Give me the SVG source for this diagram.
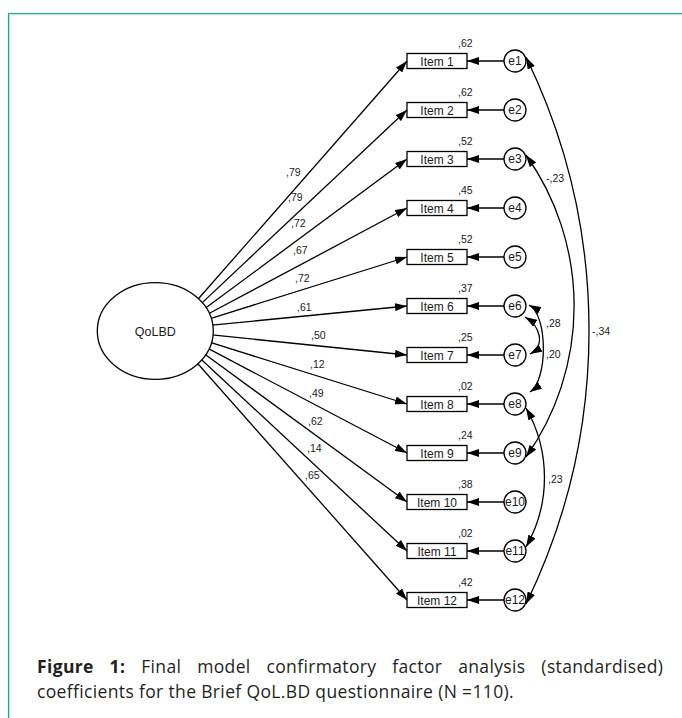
<svg xmlns="http://www.w3.org/2000/svg" width="682" height="718" viewBox="0 0 682 718">
<style>
.ln{stroke:#000;stroke-width:1.3;fill:none}
.bx{fill:#fff;stroke:#000;stroke-width:1.3}
.t{font-family:"Liberation Sans",Arial,sans-serif;fill:#1a1a1a}
.it{font-size:12px;text-anchor:middle}
.v{font-size:10.5px}
.cap{font-family:"Open Sans",Lato,sans-serif;font-size:17.5px;letter-spacing:0.35px;fill:#231f20}
</style>
<defs>
<marker id="ah" markerWidth="12" markerHeight="8" refX="12" refY="4" orient="auto-start-reverse" markerUnits="userSpaceOnUse"><path d="M0,0L12,4L0,8z" fill="#000"/></marker>
</defs>
<rect width="682" height="718" fill="#fff"/>
<g id="frame">
<path d="M8.5,718V13.5H682" stroke="#1fa58a" stroke-width="1.2" fill="none"/>
<path d="M9.8,718V14.8H682" stroke="#a6e3da" stroke-width="1" fill="none"/>
</g>
<g id="connectors">
<!-- loadings -->
<path class="ln" marker-end="url(#ah)" d="M196,301.5L407,61"/>
<path class="ln" marker-end="url(#ah)" d="M198.6,306.1L407,110"/>
<path class="ln" marker-end="url(#ah)" d="M202.2,310.6L407,159"/>
<path class="ln" marker-end="url(#ah)" d="M204.7,315.8L407,208"/>
<path class="ln" marker-end="url(#ah)" d="M206.3,319.8L407,257"/>
<path class="ln" marker-end="url(#ah)" d="M207,325.6L407,306"/>
<path class="ln" marker-end="url(#ah)" d="M207,334.4L407,355"/>
<path class="ln" marker-end="url(#ah)" d="M206.3,341.2L407,404"/>
<path class="ln" marker-end="url(#ah)" d="M203.7,346.2L407,453"/>
<path class="ln" marker-end="url(#ah)" d="M201.2,351.5L407,502"/>
<path class="ln" marker-end="url(#ah)" d="M197.6,355.9L407,551"/>
<path class="ln" marker-end="url(#ah)" d="M195,360.5L407,600"/>
<!-- errors -->
<path class="ln" marker-end="url(#ah)" d="M504,61H467"/>
<path class="ln" marker-end="url(#ah)" d="M504,110H467"/>
<path class="ln" marker-end="url(#ah)" d="M504,159H467"/>
<path class="ln" marker-end="url(#ah)" d="M504,208H467"/>
<path class="ln" marker-end="url(#ah)" d="M504,257H467"/>
<path class="ln" marker-end="url(#ah)" d="M504,306H467"/>
<path class="ln" marker-end="url(#ah)" d="M504,355H467"/>
<path class="ln" marker-end="url(#ah)" d="M504,404H467"/>
<path class="ln" marker-end="url(#ah)" d="M504,453H467"/>
<path class="ln" marker-end="url(#ah)" d="M504,502H467"/>
<path class="ln" marker-end="url(#ah)" d="M504,551H467"/>
<path class="ln" marker-end="url(#ah)" d="M504,600H467"/>
<!-- covariances -->
<path class="ln" marker-start="url(#ah)" marker-end="url(#ah)" d="M526,57A625,625 0 0 1 526,604"/>
<path class="ln" marker-start="url(#ah)" marker-end="url(#ah)" d="M526,155A261,261 0 0 1 526,457"/>
<path class="ln" marker-start="url(#ah)" marker-end="url(#ah)" d="M529,305C548,315 548,380 530,392"/>
<path class="ln" marker-start="url(#ah)" marker-end="url(#ah)" d="M525,317C540,326 546,345 530,354"/>
<path class="ln" marker-start="url(#ah)" marker-end="url(#ah)" d="M526,408A140,140 0 0 1 526,547"/>
<!-- labels -->
<g class="t v">
<text x="286" y="176">,79</text>
<text x="288" y="201">,79</text>
<text x="291" y="227">,72</text>
<text x="293" y="254">,67</text>
<text x="295" y="282">,72</text>
<text x="297" y="311">,61</text>
<text x="311" y="339">,50</text>
<text x="310" y="368">,12</text>
<text x="309" y="397">,49</text>
<text x="308" y="425">,62</text>
<text x="307" y="452">,14</text>
<text x="305" y="479">,65</text>
<text x="546" y="182">-,23</text>
<text x="592" y="335">-,34</text>
<text x="546" y="327">,28</text>
<text x="546" y="358">,20</text>
<text x="548" y="483">,23</text>
</g>
</g>
<g id="QoLBD">
<ellipse cx="155.3" cy="331" rx="58" ry="48.3" fill="#fff" stroke="#000" stroke-width="1.3"/>
<text class="t" x="155.3" y="335.5" font-size="12.5" text-anchor="middle">QoLBD</text>
</g>
<g id="item1"><rect class="bx" x="407" y="53.5" width="60" height="15"/><text class="t it" x="437" y="65.5">Item 1</text><text class="t v" x="458" y="47">,62</text></g>
<g id="item2"><rect class="bx" x="407" y="102.5" width="60" height="15"/><text class="t it" x="437" y="114.5">Item 2</text><text class="t v" x="458" y="96">,62</text></g>
<g id="item3"><rect class="bx" x="407" y="151.5" width="60" height="15"/><text class="t it" x="437" y="163.5">Item 3</text><text class="t v" x="458" y="145">,52</text></g>
<g id="item4"><rect class="bx" x="407" y="200.5" width="60" height="15"/><text class="t it" x="437" y="212.5">Item 4</text><text class="t v" x="458" y="194">,45</text></g>
<g id="item5"><rect class="bx" x="407" y="249.5" width="60" height="15"/><text class="t it" x="437" y="261.5">Item 5</text><text class="t v" x="458" y="243">,52</text></g>
<g id="item6"><rect class="bx" x="407" y="298.5" width="60" height="15"/><text class="t it" x="437" y="310.5">Item 6</text><text class="t v" x="458" y="292">,37</text></g>
<g id="item7"><rect class="bx" x="407" y="347.5" width="60" height="15"/><text class="t it" x="437" y="359.5">Item 7</text><text class="t v" x="458" y="341">,25</text></g>
<g id="item8"><rect class="bx" x="407" y="396.5" width="60" height="15"/><text class="t it" x="437" y="408.5">Item 8</text><text class="t v" x="458" y="390">,02</text></g>
<g id="item9"><rect class="bx" x="407" y="445.5" width="60" height="15"/><text class="t it" x="437" y="457.5">Item 9</text><text class="t v" x="458" y="439">,24</text></g>
<g id="item10"><rect class="bx" x="407" y="494.5" width="60" height="15"/><text class="t it" x="437" y="506.5">Item 10</text><text class="t v" x="458" y="488">,38</text></g>
<g id="item11"><rect class="bx" x="407" y="543.5" width="60" height="15"/><text class="t it" x="437" y="555.5">Item 11</text><text class="t v" x="458" y="537">,02</text></g>
<g id="item12"><rect class="bx" x="407" y="592.5" width="60" height="15"/><text class="t it" x="437" y="604.5">Item 12</text><text class="t v" x="458" y="586">,42</text></g>
<g id="e1"><circle class="bx" cx="515" cy="61" r="11"/><text class="t it" x="515" y="65.3">e1</text></g>
<g id="e2"><circle class="bx" cx="515" cy="110" r="11"/><text class="t it" x="515" y="114.3">e2</text></g>
<g id="e3"><circle class="bx" cx="515" cy="159" r="11"/><text class="t it" x="515" y="163.3">e3</text></g>
<g id="e4"><circle class="bx" cx="515" cy="208" r="11"/><text class="t it" x="515" y="212.3">e4</text></g>
<g id="e5"><circle class="bx" cx="515" cy="257" r="11"/><text class="t it" x="515" y="261.3">e5</text></g>
<g id="e6"><circle class="bx" cx="515" cy="306" r="11"/><text class="t it" x="515" y="310.3">e6</text></g>
<g id="e7"><circle class="bx" cx="515" cy="355" r="11"/><text class="t it" x="515" y="359.3">e7</text></g>
<g id="e8"><circle class="bx" cx="515" cy="404" r="11"/><text class="t it" x="515" y="408.3">e8</text></g>
<g id="e9"><circle class="bx" cx="515" cy="453" r="11"/><text class="t it" x="515" y="457.3">e9</text></g>
<g id="e10"><circle class="bx" cx="515" cy="502" r="11"/><text class="t it" x="515" y="506.3">e10</text></g>
<g id="e11"><circle class="bx" cx="515" cy="551" r="11"/><text class="t it" x="515" y="555.3">e11</text></g>
<g id="e12"><circle class="bx" cx="515" cy="600" r="11"/><text class="t it" x="515" y="604.3">e12</text></g>
<g id="caption">
<text class="cap" x="37" y="673" word-spacing="11"><tspan font-weight="bold">Figure 1:</tspan> Final model confirmatory factor analysis (standardised)</text>
<text class="cap" x="37" y="698">coefficients for the Brief QoL.BD questionnaire (N =110).</text>
</g>
</svg>
